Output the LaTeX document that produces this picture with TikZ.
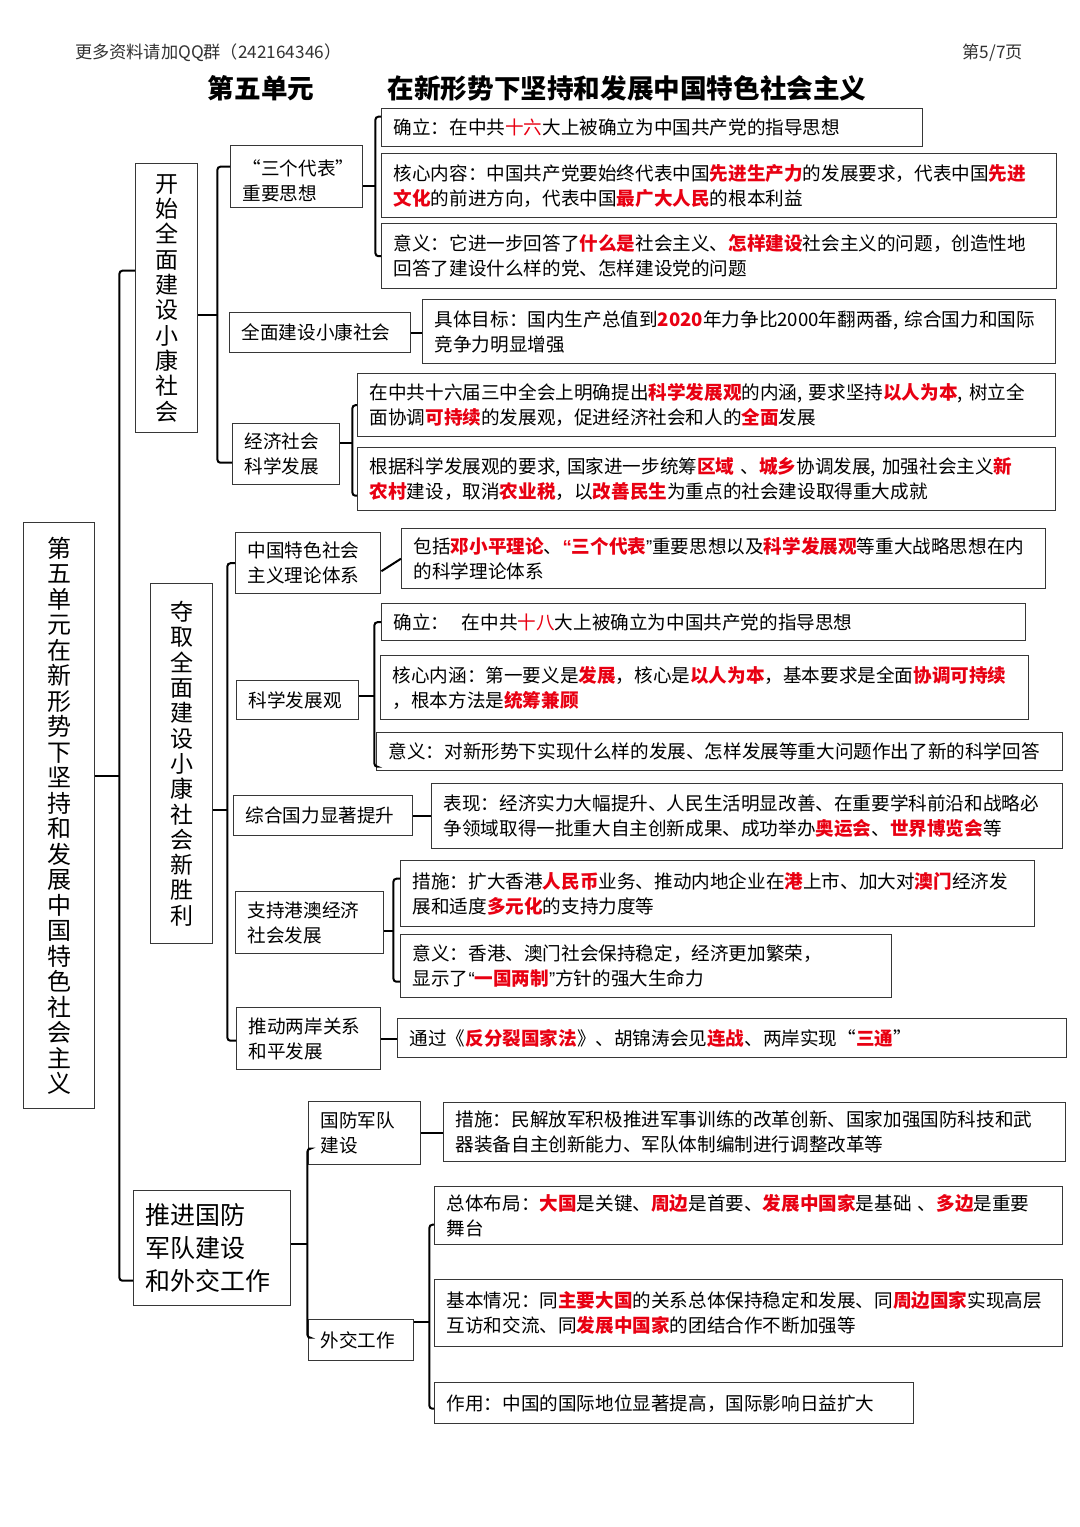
\documentclass[tikz,border=0pt]{standalone}
\usepackage{fontspec}
\setmainfont{Noto Sans CJK SC}
\newfontfamily\qfont{Liberation Sans}

\definecolor{hlred}{RGB}{232,0,18}
\definecolor{boxgray}{RGB}{55,55,55}
\definecolor{headgray}{RGB}{50,50,50}
\newcommand{\redb}[1]{\textcolor{hlred}{\bfseries #1}}
\newcommand{\redn}[1]{\textcolor{hlred}{#1}}
\newcommand{\oq}{{\qfont “}}
\newcommand{\cq}{{\qfont ”}}
\newcommand{\leaffont}{\fontsize{9.3}{12.5}\selectfont}
\newcommand{\vfont}{\fontsize{11.5}{12.65}\selectfont}

\tikzset{
  leaf/.style 2 args={draw=boxgray, line width=0.7pt, anchor=north west,
    inner xsep=6pt, inner ysep=0pt, align=left,
    text width={#1*0.5pt-12pt}, minimum height={#2*0.5pt}, font=\leaffont},
  vbox/.style 2 args={draw=boxgray, line width=0.7pt, anchor=north west,
    minimum width={#1*0.5pt}, minimum height={#2*0.5pt}, inner sep=0pt,
    align=center, font=\vfont},
  link/.style={line width=1pt, rounded corners=1.5pt},
}

\begin{document}
\begin{tikzpicture}[x=0.5pt, y=-0.5pt]
  \useasboundingbox (0,0) rectangle (1080,1527);

  % header and title
  \node[anchor=west, text=headgray, font=\fontsize{8.6}{10}\selectfont] (qq) at (68,53) {更多资料请加QQ群（242164346）};
  \node[anchor=east, text=headgray, font=\fontsize{8.6}{10}\selectfont] (page) at (1030,53) {第5/7页};
  \node[font=\bfseries\fontsize{13.3}{16}\selectfont] (unitno) at (261,88) {第五单元};
  \node[font=\bfseries\fontsize{13.3}{16}\selectfont] (title) at (627,88) {在新形势下坚持和发展中国特色社会主义};

  % main and first level
  \node[vbox={71}{586}, font=\fontsize{12}{12.75}\selectfont] (unit) at (23,522)
    {第\\五\\单\\元\\在\\新\\形\\势\\下\\坚\\持\\和\\发\\展\\中\\国\\特\\色\\社\\会\\主\\义};
  \node[vbox={62}{269}] (kaishi) at (135,163) {开\\始\\全\\面\\建\\设\\小\\康\\社\\会};
  \node[vbox={62}{360}] (duoqu) at (150,583) {夺\\取\\全\\面\\建\\设\\小\\康\\社\\会\\新\\胜\\利};
  \node[leaf={157}{115}, font=\fontsize{12.5}{16.5}\selectfont] (tuijin) at (133,1190) {推进国防\\军队建设\\和外交工作};

  % second level
  \node[leaf={132}{62}] (sange) at (230,145) {\ “三个代表”\\重要思想};
  \node[leaf={181}{40}] (xiaokang) at (229,312) {全面建设小康社会};
  \node[leaf={107}{61}] (jingji) at (232,423) {经济社会\\科学发展};
  \node[leaf={145}{61}] (lilun) at (235,532) {中国特色社会\\主义理论体系};
  \node[leaf={122}{39}] (kexue) at (236,680) {科学发展观};
  \node[leaf={179}{40}] (guoli) at (233,795) {综合国力显著提升};
  \node[leaf={148}{62}] (gangao) at (235,891) {支持港澳经济\\社会发展};
  \node[leaf={144}{62}] (liangan) at (236,1007) {推动两岸关系\\和平发展};
  \node[leaf={112}{63}] (guofang) at (308,1101) {国防军队\\建设};
  \node[leaf={105}{41}] (waijiao) at (308,1319) {外交工作};

  % leaves
  \node[leaf={541}{38}] (s1) at (381,108) {确立：在中共\redn{十六}大上被确立为中国共产党的指导思想};
  \node[leaf={675}{64}] (s2) at (381,153) {核心内容：中国共产党要始终代表中国\redb{先进生产力}的发展要求，代表中国\redb{先进}\\\redb{文化}的前进方向，代表中国\redb{最广大人民}的根本利益};
  \node[leaf={675}{65}] (s3) at (381,223) {意义：它进一步回答了\redb{什么是}社会主义、\redb{怎样建设}社会主义的问题，创造性地\\回答了建设什么样的党、怎样建设党的问题};
  \node[leaf={633}{64}] (x1) at (422,299) {具体目标：国内生产总值到\redb{2020}年力争比2000年翻两番,\ 综合国力和国际\\竞争力明显增强};
  \node[leaf={698}{63}] (j1) at (357,373) {在中共十六届三中全会上明确提出\redb{科学发展观}的内涵,\ 要求坚持\redb{以人为本},\ 树立全\\面协调\redb{可持续}的发展观，促进经济社会和人的\redb{全面}发展};
  \node[leaf={698}{63}] (j2) at (357,447) {根据科学发展观的要求,\ 国家进一步统筹\redb{区域}\ 、\redb{城乡}协调发展,\ 加强社会主义\redb{新}\\\redb{农村}建设，取消\redb{农业税}，以\redb{改善民生}为重点的社会建设取得重大成就};
  \node[leaf={644}{60}] (l1) at (401,528) {包括\redb{邓小平理论}、\redb{\oq 三个代表}\cq 重要思想以及\redb{科学发展观}等重大战略思想在内\\的科学理论体系};
  \node[leaf={644}{37}] (k1) at (381,603) {确立：\ \ 在中共\redn{十八}大上被确立为中国共产党的指导思想};
  \node[leaf={648}{64}] (k2) at (380,655) {核心内涵：第一要义是\redb{发展}，核心是\redb{以人为本}，基本要求是全面\redb{协调可持续}\\，根本方法是\redb{统筹兼顾}};
  \node[leaf={686}{38}] (k3) at (376,732) {意义：对新形势下实现什么样的发展、怎样发展等重大问题作出了新的科学回答};
  \node[leaf={631}{65}] (g1) at (431,783) {表现：经济实力大幅提升、人民生活明显改善、在重要学科前沿和战略必\\争领域取得一批重大自主创新成果、成功举办\redb{奥运会}、\redb{世界博览会}等};
  \node[leaf={634}{66}] (ga1) at (400,860) {措施：扩大香港\redb{人民币}业务、推动内地企业在\redb{港}上市、加大对\redb{澳门}经济发\\展和适度\redb{多元化}的支持力度等};
  \node[leaf={491}{63}] (ga2) at (400,934) {意义：香港、澳门社会保持稳定，经济更加繁荣，\\显示了\oq\redb{一国两制}\cq 方针的强大生命力};
  \node[leaf={669}{39}] (la1) at (397,1018) {通过《\redb{反分裂国家法}》、胡锦涛会见\redb{连战}、两岸实现“\redb{三通}”};
  \node[leaf={622}{59}] (gf1) at (443,1102) {措施：民解放军积极推进军事训练的改革创新、国家加强国防科技和武\\器装备自主创新能力、军队体制编制进行调整改革等};
  \node[leaf={628}{58}] (w1) at (434,1186) {总体布局：\redb{大国}是关键、\redb{周边}是首要、\redb{发展中国家}是基础\ 、\redb{多边}是重要\\舞台};
  \node[leaf={628}{67}] (w2) at (434,1279) {基本情况：同\redb{主要大国}的关系总体保持稳定和发展、同\redb{周边国家}实现高层\\互访和交流、同\redb{发展中国家}的团结合作不断加强等};
  \node[leaf={479}{41}] (w3) at (434,1382) {作用：中国的国际地位显著提高，国际影响日益扩大};

  % brackets
  \coordinate (unitB) at ([xshift=12pt,yshift=20pt]unit.east);
  \draw[link] (unitB -| unit.east) -- (unitB);
  \draw[link] ([yshift=13.75pt]kaishi.west) -| (unitB) |- ([yshift=-16.25pt]tuijin.west);

  \coordinate (kaishiB) at ([xshift=9.5pt,yshift=-8.25pt]kaishi.east);
  \draw[link] (kaishiB -| kaishi.east) -- (kaishiB);
  \draw[link] ([yshift=5pt]sange.west) -| (kaishiB) |- ([yshift=-4.25pt]jingji.west);

  \coordinate (sangeB) at ([xshift=6pt,yshift=-4.5pt]sange.east);
  \draw[link] (sangeB -| sange.east) -- (sangeB);
  \draw[link] ([yshift=5.5pt]s1.west) -| (sangeB) |- (s3.west);

  \draw[link] (xiaokang.east) -- (xiaokang.east -| x1.west);

  \coordinate (jingjiB) at ([xshift=6pt,yshift=5.75pt]jingji.east);
  \draw[link] (jingjiB -| jingji.east) -- (jingjiB);
  \draw[link] (j1.west) -| (jingjiB) |- ([yshift=-8.25pt]j2.west);

  \coordinate (duoquB) at ([xshift=7pt,yshift=-23pt]duoqu.east);
  \draw[link] (duoquB -| duoqu.east) -- (duoquB);
  \draw[link] (lilun.west) -| (duoquB) |- ([yshift=-1pt]liangan.west);

  \draw[link] ([yshift=-4pt]lilun.east) -- (l1.west);

  \coordinate (kexueB) at ([xshift=7.5pt,yshift=2.25pt]kexue.east);
  \draw[link] (kexueB -| kexue.east) -- (kexueB);
  \draw[link] (k1.west) -| (kexueB) |- ([yshift=-7.5pt]k3.west);

  \draw[link] (guoli.east) -- (guoli.east -| g1.west);

  \coordinate (gangaoB) at ([xshift=4.5pt,yshift=-4pt]gangao.east);
  \draw[link] (gangaoB -| gangao.east) -- (gangaoB);
  \draw[link] ([yshift=7.5pt]ga1.west) -| (gangaoB) |- ([yshift=-7.75pt]ga2.west);

  \draw[link] (liangan.east) -- (liangan.east -| la1.west);

  \coordinate (tuijinB) at ([xshift=8pt,yshift=2.25pt]tuijin.east);
  \draw[link] (tuijinB -| tuijin.east) -- (tuijinB);
  \draw[link] ([yshift=-7.75pt]guofang.west) -| (tuijinB) |- ([yshift=1.25pt]waijiao.west);

  \draw[link] (guofang.east) -- (guofang.east -| gf1.west);

  \coordinate (waijiaoB) at ([xshift=7.5pt,yshift=-1.5pt]waijiao.north east);
  \draw[link] (waijiaoB -| waijiao.east) -- (waijiaoB);
  \draw[link] ([yshift=-4.5pt]w1.west) -| (waijiaoB) |- ([yshift=-2.75pt]w3.west);
\end{tikzpicture}
\end{document}
